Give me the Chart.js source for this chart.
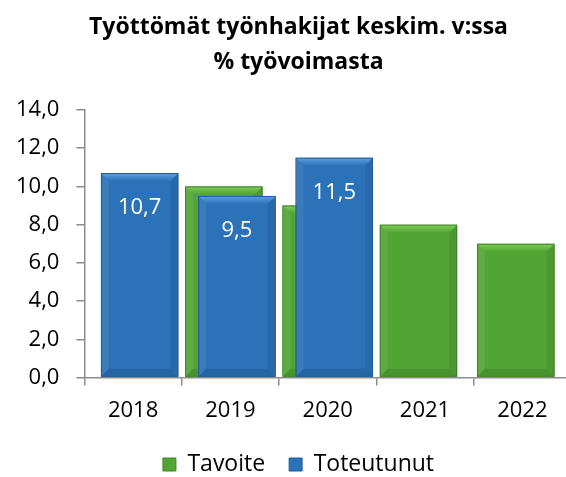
<!DOCTYPE html>
<html>
<head>
<meta charset="utf-8">
<script src="https://cdn.jsdelivr.net/npm/chart.js@4/dist/chart.umd.min.js"></script>
<style>
    html, body { margin: 0; padding: 0; background: #fff; overflow: hidden; }
    /* the original plot runs past the right edge of the picture */
    #wrap { width: 592px; height: 477px; }
</style>
</head>
<body>
<div id="wrap"><canvas id="chart"></canvas></div>
<script>
/* ================= DATA ================= */
const years = ["2018", "2019", "2020", "2021", "2022"];
const tavoite = [null, 10.0, 9.0, 8.0, 7.0];
const toteutunut = [10.7, 9.5, 11.5, null, null];
const titleLines = ["Työttömät työnhakijat keskim. v:ssa", "% työvoimasta"];

const FONT = "'Open Sans', 'Noto Sans', sans-serif";
const fmt = v => v.toFixed(1).replace(".", ",");

const shades = [
    { face: "#52a535", light: "#82cd5a", dark: "#469330", line: "#3f8527" },
    { face: "#2b72b8", light: "#5fa2e4", dark: "#2565a5", line: "#215d9a" }
];

/* ================= 3D BARS (green behind, blue on top) ================= */
function bevel(ctx, bar, s) {
    const { x, y, base, width } = bar.getProps(["x", "y", "base", "width"], true);
    if (!isFinite(y)) return;
    const l = x - width / 2, r = x + width / 2, t = y, b = base, k = 8;

    const poly = (pts, fill) => {
        ctx.beginPath();
        ctx.moveTo(pts[0][0], pts[0][1]);
        pts.slice(1).forEach(p => ctx.lineTo(p[0], p[1]));
        ctx.closePath();
        ctx.fillStyle = fill;
        ctx.fill();
    };

    ctx.save();
    poly([[l, b], [r, b], [r - k, b - k], [l + k, b - k]], s.dark);
    poly([[r, t], [r, b], [r - k, b - k], [r - k, t + k]], "rgba(0,0,0,0.07)");
    poly([[l, t], [l, b], [l + k, b - k], [l + k, t + k]], "rgba(255,255,255,0.07)");

    const g = ctx.createLinearGradient(0, t, 0, t + k);
    g.addColorStop(0, s.light);
    g.addColorStop(1, s.face);
    poly([[l, t], [r, t], [r - k, t + k], [l + k, t + k]], g);

    ctx.strokeStyle = s.line;
    ctx.lineWidth = 1;
    ctx.strokeRect(l + 0.5, t + 0.5, width - 1, b - t - 1);
    ctx.restore();
}

const bars3d = {
    id: "bars3d",
    beforeDatasetsDraw(chart) {
        const ctx = chart.ctx;
        [0, 1].forEach(i => {
            if (!chart.isDatasetVisible(i)) return;
            const meta = chart.getDatasetMeta(i);
            ctx.save();
            ctx.shadowColor = "rgba(0,0,0,0.4)";
            ctx.shadowBlur = 5;
            ctx.shadowOffsetX = 2;
            ctx.shadowOffsetY = 1;
            meta.controller.draw();
            ctx.restore();
            meta.data.forEach((bar, j) => {
                if (chart.data.datasets[i].data[j] == null) return;
                bevel(ctx, bar, shades[i]);
            });
        });
        return false;
    },
    afterDraw(chart) {
        const ctx = chart.ctx;
        const meta = chart.getDatasetMeta(1);
        ctx.save();
        ctx.font = "22px " + FONT;
        ctx.fillStyle = "#fff";
        ctx.textAlign = "center";
        ctx.textBaseline = "middle";
        meta.data.forEach((bar, j) => {
            const v = toteutunut[j];
            if (v == null) return;
            ctx.fillText(fmt(v), bar.x, bar.y + 35);
        });
        ctx.restore();
    }
};

/* ================= CHART ================= */
new Chart(document.getElementById("chart"), {
    type: "bar",
    data: {
        labels: years,
        datasets: [
            {
                label: "Tavoite",
                data: tavoite,
                backgroundColor: shades[0].face,
                borderColor: shades[0].line,
                borderWidth: 1
            },
            {
                label: "Toteutunut",
                data: toteutunut,
                backgroundColor: shades[1].face,
                borderColor: shades[1].line,
                borderWidth: 1
            }
        ]
    },
    options: {
        responsive: true,
        maintainAspectRatio: false,
        animation: false,
        categoryPercentage: 0.27,
        barPercentage: 5.9,
        layout: { padding: { left: 26, right: 21, top: 0, bottom: -9 } },
        plugins: {
            title: {
                display: true,
                text: titleLines,
                color: "#000",
                font: { family: FONT, size: 23, weight: "bold", lineHeight: 1.52 },
                padding: { top: 10, bottom: 30 }
            },
            legend: {
                position: "bottom",
                labels: {
                    color: "#000",
                    font: { family: FONT, size: 23 },
                    boxWidth: 13,
                    boxHeight: 13,
                    padding: 24
                }
            },
            tooltip: { enabled: false }
        },
        scales: {
            x: {
                grid: { drawOnChartArea: false, drawTicks: true, tickLength: 8, color: "#8c8c8c", lineWidth: 1.5 },
                border: { color: "#8c8c8c", width: 1.5 },
                ticks: { color: "#000", font: { family: FONT, size: 22 }, padding: 12 },
                afterFit: scale => { scale.height -= 7; }
            },
            y: {
                min: 0,
                max: 14,
                grid: { drawOnChartArea: false, drawTicks: true, tickLength: 8, color: "#8c8c8c", lineWidth: 1.5 },
                border: { color: "#8c8c8c", width: 1.5 },
                ticks: {
                    stepSize: 2,
                    color: "#000",
                    font: { family: FONT, size: 22 },
                    padding: 17,
                    callback: v => fmt(v)
                },
                // narrower axis box so title/legend centre like the original; labels spill left, so no clipping
                afterFit: scale => {
                    scale.width -= 27;
                    scale._computeLabelArea = () => undefined;
                }
            }
        }
    },
    plugins: [bars3d]
});
</script>
</body>
</html>
